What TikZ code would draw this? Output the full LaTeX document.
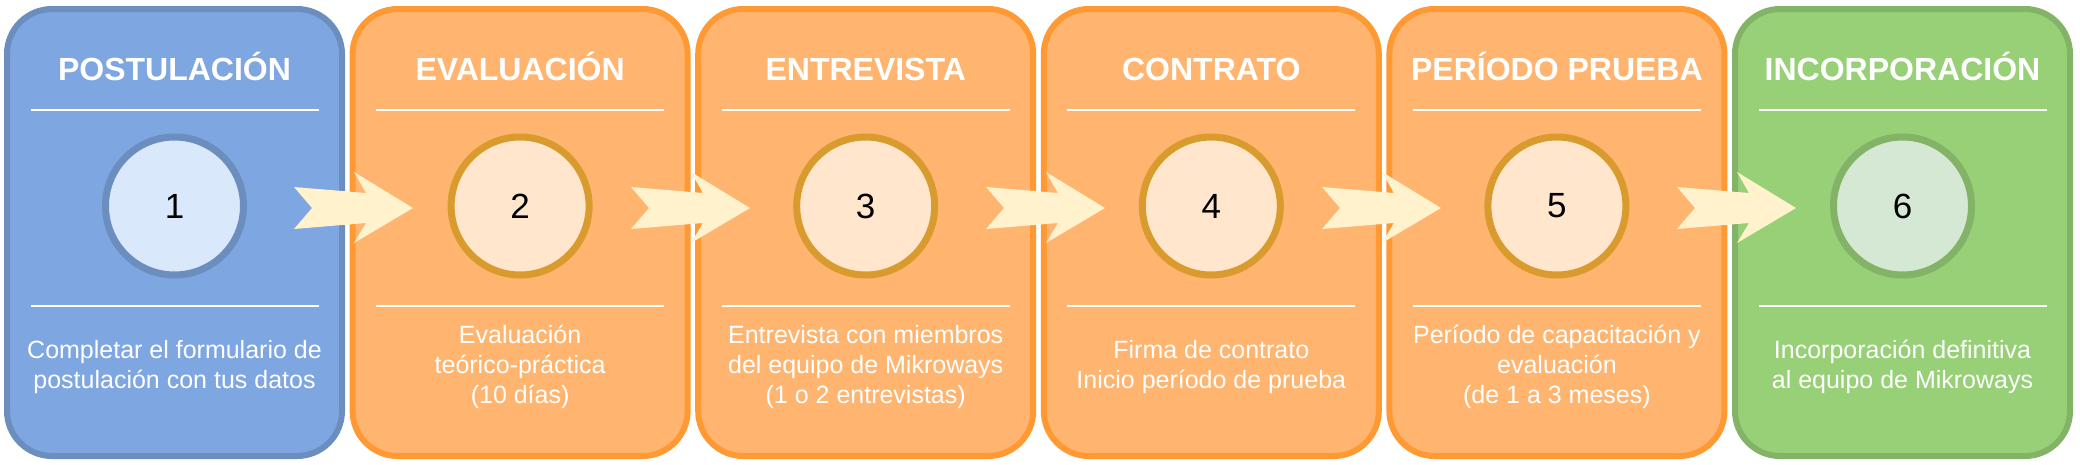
\documentclass[tikz,border=0pt]{standalone}
\usepackage{fontspec}
\setmainfont{Liberation Sans}
\definecolor{azulfondo}{HTML}{7EA6E0}
\definecolor{azulborde}{HTML}{6C8EBF}
\definecolor{azuldisco}{HTML}{DAE8FC}
\definecolor{narfondo}{HTML}{FFB570}
\definecolor{narborde}{HTML}{FF9933}
\definecolor{nardisco}{HTML}{FFE6CC}
\definecolor{naraaro}{HTML}{D99B2E}
\definecolor{verfondo}{HTML}{97D077}
\definecolor{verborde}{HTML}{82B366}
\definecolor{verdisco}{HTML}{D5E8D4}
\definecolor{flechafondo}{HTML}{FFF2CC}
\begin{document}
\begin{tikzpicture}[x=1pt,y=-1pt]
\tikzstyle{caja} = [rectangle, rounded corners=45pt, line width=6pt, minimum width=335pt, minimum height=447pt, inner sep=0, outer sep=0]
\tikzstyle{circulo} = [circle, line width=7pt, minimum size=138pt, inner sep=0, font=\fontsize{35}{42}\selectfont, text=black]
\tikzstyle{titulo} = [anchor=base, inner sep=0, text=white, font=\fontsize{32}{38}\selectfont\bfseries]
\tikzstyle{texto} = [align=center, inner sep=0, text=white, font=\fontsize{25}{30}\selectfont]
\tikzstyle{sep} = [draw=white, line width=2pt]
\tikzstyle{flecha} = [fill=flechafondo]
    \path[fill=white, use as bounding box] (0,0) rectangle (2080,464);
    \foreach \i/\tit/\desc/\fondo/\borde/\disco/\aro in {
    	1/POSTULACIÓN/{Completar el formulario de\\postulación con tus datos}/azulfondo/azulborde/azuldisco/azulborde,
    	2/EVALUACIÓN/{Evaluación\\teórico-práctica\\(10 días)}/narfondo/narborde/nardisco/naraaro,
    	3/ENTREVISTA/{Entrevista con miembros\\del equipo de Mikroways\\(1 o 2 entrevistas)}/narfondo/narborde/nardisco/naraaro,
    	4/CONTRATO/{Firma de contrato\\Inicio período de prueba}/narfondo/narborde/nardisco/naraaro,
    	5/PERÍODO PRUEBA/{Período de capacitación y\\evaluación\\(de 1 a 3 meses)}/narfondo/narborde/nardisco/naraaro,
    	6/INCORPORACIÓN/{Incorporación definitiva\\al equipo de Mikroways}/verfondo/verborde/verdisco/verborde}
    {
    	\pgfmathsetmacro\cx{174.5+(\i-1)*345.6}
    	\node [caja, fill=\fondo, draw=\borde] (caja\i) at (\cx,232.5) {};
    	\node [titulo] (tit\i) at (\cx,80) {\tit};
    	\draw [sep] (\cx-144,110) -- (\cx+144,110);
    	\node [circulo, fill=\disco, draw=\aro] (num\i) at (\cx,206) {\i};
    	\draw [sep] (\cx-144,306) -- (\cx+144,306);
    	\node [texto] (desc\i) at (\cx,367) {\desc};
    }
    \foreach \j/\cola in {1/294,2/631,3/986,4/1322,5/1677}
    {
    	\coordinate (f\j) at (\cola,0);
    	\fill [flecha, shift={(f\j)}] (0,187) -- (72,193) -- (60,172) -- (119,208) -- (60,243) -- (72,223) -- (0,229) -- (18,208) -- cycle;
    }
\end{tikzpicture}
\end{document}
